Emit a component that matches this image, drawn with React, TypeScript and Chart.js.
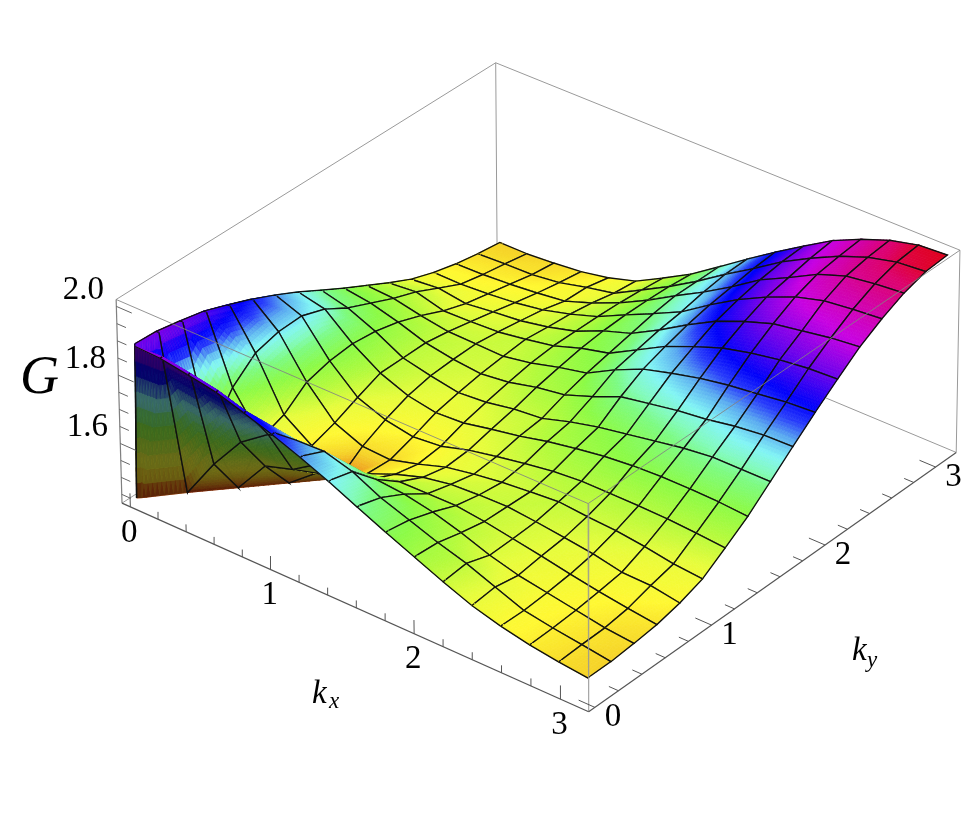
import React, { useEffect, useRef } from "react";
import { Chart, registerables } from "chart.js";

Chart.register(...registerables);

const WIDTH = 975;
const HEIGHT = 825;
const CELLS = 16;
const STEP = Math.PI / CELLS;
const K_EPS = 0.02;

const kxRange = [-0.06, 3.19];
const kyRange = [-0.053, 3.19];
const gRange = [1.424, 2.02];

const kTicksMinor = [0, 0.2, 0.4, 0.6, 0.8, 1, 1.2, 1.4, 1.6, 1.8, 2, 2.2, 2.4, 2.6, 2.8, 3];
const kTicksMajor = [0, 1, 2, 3];
const gTicksMinor = [1.45, 1.5, 1.55, 1.6, 1.65, 1.7, 1.75, 1.8, 1.85, 1.9, 1.95, 2.0];
const gTicksMajor = [1.6, 1.8, 2.0];

// G along kx = 0, ky = mesh step 1..16
const gEdge = [1.883, 1.87, 1.855, 1.83, 1.803, 1.772, 1.738, 1.7, 1.663, 1.628, 1.593, 1.561, 1.538, 1.521, 1.509, 1.5];
const gCornerLow = 1.438;
const gCornerHigh = 1.886;

// Upper triangle of the symmetric surface: each row starts on the diagonal kx = ky
const gRow1 = [1.445, 1.565, 1.665, 1.723, 1.742, 1.745, 1.722, 1.682, 1.653, 1.624, 1.6, 1.568, 1.537, 1.523, 1.512, 1.5];
const gRow2 = [1.45, 1.55, 1.576, 1.628, 1.647, 1.654, 1.647, 1.631, 1.607, 1.578, 1.556, 1.542, 1.528, 1.514, 1.506];
const gRow3 = [1.455, 1.52, 1.543, 1.574, 1.602, 1.603, 1.604, 1.594, 1.58, 1.566, 1.55, 1.536, 1.524, 1.514];
const gRow4 = [1.46, 1.509, 1.543, 1.57, 1.585, 1.59, 1.592, 1.584, 1.574, 1.563, 1.546, 1.544, 1.53];
const gRow5 = [1.505, 1.528, 1.555, 1.57, 1.582, 1.59, 1.597, 1.59, 1.585, 1.575, 1.561, 1.554];
const gRow6 = [1.536, 1.56, 1.577, 1.592, 1.605, 1.612, 1.612, 1.612, 1.61, 1.605, 1.598];
const gRow7 = [1.577, 1.592, 1.612, 1.627, 1.64, 1.648, 1.652, 1.652, 1.65, 1.644];
const gRow8 = [1.6, 1.625, 1.645, 1.66, 1.675, 1.69, 1.7, 1.7, 1.7];
const gRow9 = [1.655, 1.69, 1.705, 1.72, 1.73, 1.745, 1.755, 1.757];
const gRow10 = [1.727, 1.75, 1.77, 1.785, 1.795, 1.806, 1.812];
const gRow11 = [1.784, 1.815, 1.835, 1.85, 1.86, 1.864];
const gRow12 = [1.849, 1.877, 1.891, 1.905, 1.914];
const gRow13 = [1.912, 1.935, 1.945, 1.952];
const gRow14 = [1.964, 1.976, 1.983];
const gRow15 = [1.996, 2.003];
const gRow16 = [2.008];
const gRows = [gRow1, gRow2, gRow3, gRow4, gRow5, gRow6, gRow7, gRow8, gRow9, gRow10, gRow11, gRow12, gRow13, gRow14, gRow15, gRow16];

// Height-to-colour legend of the surface
const colorG = [1.44, 1.47, 1.5, 1.53, 1.57, 1.61, 1.65, 1.69, 1.71, 1.735, 1.765, 1.79, 1.816, 1.867, 1.916, 1.955, 1.987, 2.01];
const colorR = [200, 235, 245, 255, 230, 180, 140, 125, 130, 130, 90, 40, 0, 110, 200, 210, 220, 225];
const colorV = [40, 140, 210, 248, 252, 250, 250, 250, 250, 245, 170, 60, 0, 0, 0, 0, 0, 0];
const colorB = [10, 30, 40, 50, 60, 60, 70, 130, 190, 245, 240, 250, 250, 235, 225, 170, 110, 20];

// Picture of the eight box corners: [kx end, ky end, G end, px, py]
const boxCorners = [
  [0, 0, 0, 122, 503],
  [1, 0, 0, 588, 712],
  [1, 1, 0, 956, 453],
  [0, 1, 0, 498, 260],
  [0, 0, 1, 116, 300],
  [1, 0, 1, 589, 503],
  [1, 1, 1, 960, 250],
  [0, 1, 1, 495, 63],
];

function solveCamera(): number[] {
  const n = 11;
  const ata = Array.from({ length: n }, () => new Array(n + 1).fill(0));
  const add = (row: number[], rhs: number) => {
    for (let a = 0; a < n; a++) {
      for (let b = 0; b < n; b++) ata[a][b] += row[a] * row[b];
      ata[a][n] += row[a] * rhs;
    }
  };
  boxCorners.forEach(([X, Y, Z, u, v]) => {
    add([X, Y, Z, 1, 0, 0, 0, 0, -u * X, -u * Y, -u * Z], u);
    add([0, 0, 0, 0, X, Y, Z, 1, -v * X, -v * Y, -v * Z], v);
  });
  for (let c = 0; c < n; c++) {
    let piv = c;
    for (let r = c + 1; r < n; r++) if (Math.abs(ata[r][c]) > Math.abs(ata[piv][c])) piv = r;
    [ata[c], ata[piv]] = [ata[piv], ata[c]];
    for (let r = 0; r < n; r++) {
      if (r === c) continue;
      const f = ata[r][c] / ata[c][c];
      for (let k = c; k <= n; k++) ata[r][k] -= f * ata[c][k];
    }
  }
  return ata.map((row, i) => row[n] / row[i]);
}

const cam = solveCamera();

function project(kx: number, ky: number, g: number) {
  const X = (kx - kxRange[0]) / (kxRange[1] - kxRange[0]);
  const Y = (ky - kyRange[0]) / (kyRange[1] - kyRange[0]);
  const Z = (g - gRange[0]) / (gRange[1] - gRange[0]);
  const w = cam[8] * X + cam[9] * Y + cam[10] * Z + 1;
  return {
    x: (cam[0] * X + cam[1] * Y + cam[2] * Z + cam[3]) / w,
    y: (cam[4] * X + cam[5] * Y + cam[6] * Z + cam[7]) / w,
  };
}

// Node 0 is k = 0, node 1 is the narrow step that carries the jump at the origin, node m >= 2 is mesh line m-1
const NODES = CELLS + 2;
const nodeK = (n: number) => (n === 0 ? 0 : n === 1 ? K_EPS : (n - 1) * STEP);

function gAt(a: number, b: number): number {
  if (a <= 1 && b <= 1) return a === b ? gCornerLow : gCornerHigh;
  if (a <= 1) return gEdge[b - 2];
  if (b <= 1) return gEdge[a - 2];
  const i = Math.min(a, b) - 1;
  const j = Math.max(a, b) - 1;
  return gRows[i - 1][j - i];
}

function surfaceColor(g: number, dark: number) {
  let s = 0;
  while (s < colorG.length - 2 && g > colorG[s + 1]) s++;
  const t = Math.max(0, Math.min(1, (g - colorG[s]) / (colorG[s + 1] - colorG[s])));
  const mix = (arr: number[]) => Math.round((arr[s] + (arr[s + 1] - arr[s]) * t) * dark);
  return `rgb(${mix(colorR)},${mix(colorV)},${mix(colorB)})`;
}

const SUBDIV = 10;

function fillTriangle(ctx: CanvasRenderingContext2D, p: any[], g: number[]) {
  const cross = (p[1].x - p[0].x) * (p[2].y - p[0].y) - (p[1].y - p[0].y) * (p[2].x - p[0].x);
  const dark = cross > 0 ? 0.42 : 1;
  const pt = (a: number, b: number) => {
    const c = SUBDIV - a - b;
    return {
      x: (p[0].x * c + p[1].x * a + p[2].x * b) / SUBDIV,
      y: (p[0].y * c + p[1].y * a + p[2].y * b) / SUBDIV,
      g: (g[0] * c + g[1] * a + g[2] * b) / SUBDIV,
    };
  };
  const tri = (q: any[]) => {
    const col = surfaceColor((q[0].g + q[1].g + q[2].g) / 3, dark);
    ctx.fillStyle = col;
    ctx.strokeStyle = col;
    ctx.beginPath();
    ctx.moveTo(q[0].x, q[0].y);
    ctx.lineTo(q[1].x, q[1].y);
    ctx.lineTo(q[2].x, q[2].y);
    ctx.closePath();
    ctx.fill();
    ctx.stroke();
  };
  ctx.lineWidth = 0.7;
  for (let a = 0; a < SUBDIV; a++) {
    for (let b = 0; b < SUBDIV - a; b++) {
      tri([pt(a, b), pt(a + 1, b), pt(a, b + 1)]);
      if (a + b < SUBDIV - 1) tri([pt(a + 1, b), pt(a + 1, b + 1), pt(a, b + 1)]);
    }
  }
}

const surfacePlugin = {
  id: "surfaceCells",
  beforeDatasetDraw(chart: any, args: any) {
    const ds = chart.data.datasets[args.index];
    if (!ds.cellG) return;
    const pts = args.meta.data;
    const ctx = chart.ctx;
    ctx.save();
    // far half of the cell first, the half nearer the viewer over it
    fillTriangle(ctx, [pts[0], pts[2], pts[3]], [ds.cellG[0], ds.cellG[2], ds.cellG[3]]);
    fillTriangle(ctx, [pts[0], pts[1], pts[2]], [ds.cellG[0], ds.cellG[1], ds.cellG[2]]);
    ctx.restore();
  },
};

const SERIF = '"Liberation Serif", "Times New Roman", serif';

const labelPlugin = {
  id: "axisText",
  afterDatasetsDraw(chart: any) {
    const { ctx, scales } = chart;
    const px = (p: { x: number; y: number }) => ({ x: scales.x.getPixelForValue(p.x), y: scales.y.getPixelForValue(p.y) });
    ctx.save();
    ctx.fillStyle = "#000";
    ctx.textAlign = "center";
    ctx.textBaseline = "middle";
    ctx.font = `33px ${SERIF}`;
    kTicksMajor.forEach((k) => {
      const a = px(project(k, kyRange[0], gRange[0]));
      ctx.fillText(String(k), a.x - 1, a.y + 26);
      const b = px(project(kxRange[1], k, gRange[0]));
      ctx.fillText(String(k), b.x + 18, b.y + 10);
    });
    gTicksMajor.forEach((g) => {
      const a = px(project(kxRange[0], kyRange[0], g));
      ctx.fillText(g.toFixed(1), a.x - 33, a.y - 16);
    });
    ctx.textAlign = "left";
    ctx.textBaseline = "alphabetic";
    ctx.font = `italic 54px ${SERIF}`;
    ctx.fillText("G", 20, 393);
    ctx.font = `italic 33px ${SERIF}`;
    ctx.fillText("k", 312, 703);
    ctx.fillText("k", 852, 660);
    ctx.font = `italic 23px ${SERIF}`;
    ctx.fillText("x", 329, 708);
    ctx.fillText("y", 867, 667);
    ctx.restore();
  },
};

function polyline(points: { x: number; y: number }[], color: string, width: number) {
  return {
    data: points,
    showLine: true,
    borderColor: color,
    borderWidth: width,
    pointRadius: 0,
    pointHoverRadius: 0,
    clip: false,
  };
}

function buildDatasets() {
  const [x0, x1] = kxRange;
  const [y0, y1] = kyRange;
  const [g0, g1] = gRange;
  const back: any[] = [];
  const front: any[] = [];
  const grey = "#9a9a9a";
  const axis = "#555555";
  const edge = (a: number[], b: number[], color: string, w: number, list: any[]) =>
    list.push(polyline([project(a[0], a[1], a[2]), project(b[0], b[1], b[2])], color, w));

  edge([x0, y1, g1], [x0, y0, g1], grey, 1, back);
  edge([x0, y1, g1], [x1, y1, g1], grey, 1, back);
  edge([x0, y1, g1], [x0, y1, g0], grey, 1, back);
  edge([x0, y1, g0], [x0, y0, g0], grey, 1, back);
  edge([x0, y1, g0], [x1, y1, g0], grey, 1, back);
  edge([x1, y1, g1], [x1, y1, g0], grey, 1, back);

  edge([x0, y0, g1], [x1, y0, g1], "rgba(130,130,130,0.85)", 1, front);
  edge([x1, y0, g1], [x1, y1, g1], "rgba(130,130,130,0.85)", 1, front);
  edge([x1, y0, g1], [x1, y0, g0], "rgba(150,150,150,0.85)", 1.2, front);
  edge([x0, y0, g1], [x0, y0, g0], "#808080", 1.2, front);
  edge([x0, y0, g0], [x1, y0, g0], axis, 1.2, front);
  edge([x1, y0, g0], [x1, y1, g0], axis, 1.2, front);

  kTicksMinor.forEach((k) => {
    const major = kTicksMajor.includes(k);
    edge([k, y0, g0], [k, y0, g0 + (major ? 0.04 : 0.022)], axis, 1, front);
    edge([x1, k, g0], [x1 - (major ? 0.11 : 0.065), k, g0], axis, 1, front);
  });
  gTicksMinor.forEach((g) => {
    const major = gTicksMajor.includes(g);
    edge([x0, y0, g], [x0 + (major ? 0.11 : 0.065), y0, g], "#666666", 1, front);
  });

  const cells: any[] = [];
  for (let b = NODES - 2; b >= 0; b--) {
    for (let a = 0; a <= NODES - 2; a++) {
      const idx = [
        [a, b],
        [a + 1, b],
        [a + 1, b + 1],
        [a, b + 1],
      ];
      const pts = idx.map(([p, q]) => project(nodeK(p), nodeK(q), gAt(p, q)));
      const vals = idx.map(([p, q]) => gAt(p, q));
      const meshEdges = [b !== 1, a + 1 !== 1, b + 1 !== 1, a !== 1];
      cells.push({
        ...polyline([...pts, pts[0]], "#000000", 1.35),
        cellG: vals,
        segment: {
          borderColor: (ctx: any) => (meshEdges[ctx.p0DataIndex] ? "#101010" : "rgba(0,0,0,0)"),
        },
      });
    }
  }

  const ordered = [...back, ...cells, ...front];
  ordered.forEach((d, i) => {
    d.order = ordered.length - i;
  });
  return ordered;
}

export default function App() {
  const ref = useRef<HTMLCanvasElement | null>(null);
  useEffect(() => {
    document.body.style.margin = "0";
    document.body.style.background = "#ffffff";
    const chart = new Chart(ref.current as HTMLCanvasElement, {
      type: "scatter",
      data: { datasets: buildDatasets() as any },
      options: {
        responsive: false,
        animation: false,
        events: [],
        layout: { padding: 0 },
        plugins: { legend: { display: false }, tooltip: { enabled: false } },
        scales: {
          x: { type: "linear", min: 0, max: WIDTH, display: false },
          y: { type: "linear", min: 0, max: HEIGHT, reverse: true, display: false },
        },
      },
      plugins: [surfacePlugin, labelPlugin],
    } as any);
    return () => chart.destroy();
  }, []);
  return <canvas ref={ref} width={WIDTH} height={HEIGHT} style={{ display: "block" }} />;
}
